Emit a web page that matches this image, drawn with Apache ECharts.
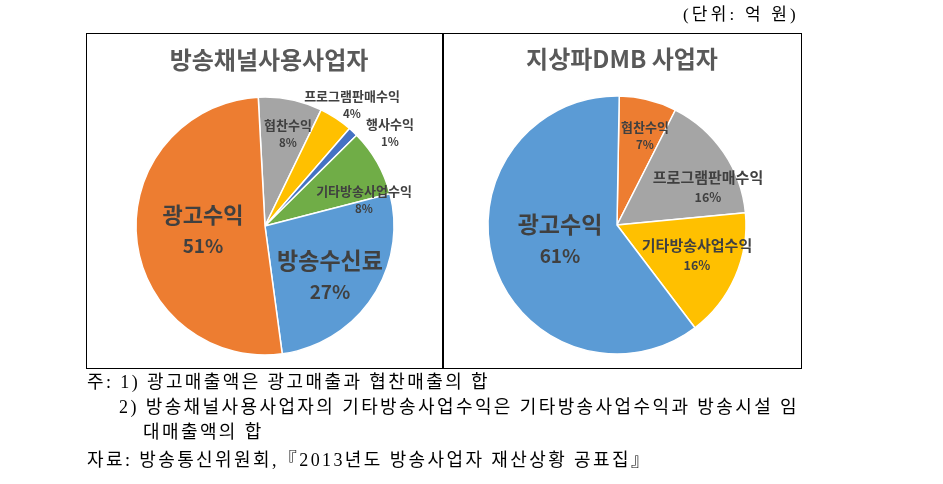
<!DOCTYPE html>
<html>
<head>
<meta charset="utf-8">
<script src="https://cdn.jsdelivr.net/npm/echarts@6/dist/echarts.min.js"></script>
<style>
  html, body { margin: 0; padding: 0; background: #fff; }
  #wrap { position: relative; width: 943px; height: 484px; overflow: hidden; }
  #chart { position: absolute; left: 0; top: 0; width: 943px; height: 484px; }
  .box { position: absolute; border: 1.5px solid #000; box-sizing: border-box; }
  .note { position: absolute; font-family: "Liberation Serif", "Noto Sans CJK KR", serif; font-size: 18px; color: #000; white-space: nowrap; letter-spacing: 2.4px; line-height: 20px; }
</style>
</head>
<body>
<div id="wrap">
  <div class="box" style="left:86px; top:33px; width:358px; height:336px;"></div>
  <div class="box" style="left:442px; top:33px; width:360px; height:336px;"></div>
  <div id="chart"></div>
  <div class="note" style="left:683px; top:5px; font-size:17px; letter-spacing:3.2px;">(단위: 억 원)</div>
  <div class="note" style="left:87px; top:372px;">주: 1) 광고매출액은 광고매출과 협찬매출의 합</div>
  <div class="note" style="left:119px; top:397px;">2) 방송채널사용사업자의 기타방송사업수익은 기타방송사업수익과 방송시설 임</div>
  <div class="note" style="left:143px; top:422px;">대매출액의 합</div>
  <div class="note" style="left:87px; top:450px;">자료: 방송통신위원회,『2013년도 방송사업자 재산상황 공표집』</div>
</div>
<script>
// ---- data ----
const leftTitle = '방송채널사용사업자';
const leftNames = ['협찬수익', '프로그램판매수익', '행사수익', '기타방송사업수익', '방송수신료', '광고수익'];
const leftValues = [8.0, 4.2, 1.2, 8.4, 26.9, 51.3];

const rightTitle = '지상파DMB 사업자';
const rightNames = ['협찬수익', '프로그램판매수익', '기타방송사업수익', '광고수익'];
const rightValues = [7.2, 16.0, 16.2, 60.6];

// ---- styles ----
const leftColors = ['#A5A5A5', '#FFC000', '#4472C4', '#70AD47', '#5B9BD5', '#ED7D31'];
const rightColors = ['#ED7D31', '#A5A5A5', '#FFC000', '#5B9BD5'];
const leftLabelSize = ['s', 's', 's', 's', 'b2', 'b'];
const rightLabelSize = ['s', 'm', 'm', 'b2'];
const leftLabelPos = [[288, 134], [352, 105], [390, 133], [364, 200], [330, 276], [203, 230]];
const rightLabelPos = [[645, 136], [708, 187], [697, 255], [560, 240]];

const FONT = '"Noto Sans CJK KR", "Noto Sans", sans-serif';
const rich = {
  sn: { fontFamily: FONT, fontSize: 13, color: '#404040', fontWeight: 'bold', lineHeight: 17 },
  sp: { fontFamily: FONT, fontSize: 11.5, color: '#404040', fontWeight: 'bold', lineHeight: 17 },
  mn: { fontFamily: FONT, fontSize: 15, color: '#404040', fontWeight: 'bold', lineHeight: 20 },
  mp: { fontFamily: FONT, fontSize: 12.5, color: '#404040', fontWeight: 'bold', lineHeight: 20 },
  bn: { fontFamily: FONT, fontSize: 22, color: '#404040', fontWeight: 'bold', lineHeight: 31 },
  bp: { fontFamily: FONT, fontSize: 19, color: '#404040', fontWeight: 'bold', lineHeight: 31 },
  b2n: { fontFamily: FONT, fontSize: 23, color: '#404040', fontWeight: 'bold', lineHeight: 32 },
  b2p: { fontFamily: FONT, fontSize: 19, color: '#404040', fontWeight: 'bold', lineHeight: 32 }
};

function makeSeries(names, values, colors, sizes, pos, center, startAngle) {
  return {
    type: 'pie',
    center: center,
    radius: 129,
    startAngle: startAngle,
    clockwise: true,
    avoidLabelOverlap: false,
    silent: true,
    itemStyle: { borderColor: '#fff', borderWidth: 1.5 },
    label: {
      show: true,
      position: 'inside',
      rich: rich,
      formatter: function (p) {
        const s = sizes[p.dataIndex];
        return '{' + s + 'n|' + p.name + '}\n{' + s + 'p|' + Math.round(p.value) + '%}';
      }
    },
    labelLine: { show: false },
    labelLayout: function (p) {
      const xy = pos[p.dataIndex];
      return { x: xy[0], y: xy[1], align: 'center', verticalAlign: 'middle' };
    },
    data: names.map(function (n, i) {
      return { name: n, value: values[i], itemStyle: { color: colors[i] } };
    })
  };
}

const chart = echarts.init(document.getElementById('chart'), null, { renderer: 'canvas' });
chart.setOption({
  animation: false,
  title: [
    { text: leftTitle, left: 264, top: 43, textAlign: 'center',
      textStyle: { fontFamily: FONT, fontSize: 24, fontWeight: 'bold', color: '#595959' } },
    { text: rightTitle, left: 617, top: 42, textAlign: 'center',
      textStyle: { fontFamily: FONT, fontSize: 24, fontWeight: 'bold', color: '#595959' } }
  ],
  series: [
    makeSeries(leftNames, leftValues, leftColors, leftLabelSize, leftLabelPos, [265, 226], 93),
    makeSeries(rightNames, rightValues, rightColors, rightLabelSize, rightLabelPos, [617, 225], 89)
  ]
});
</script>
</body>
</html>
